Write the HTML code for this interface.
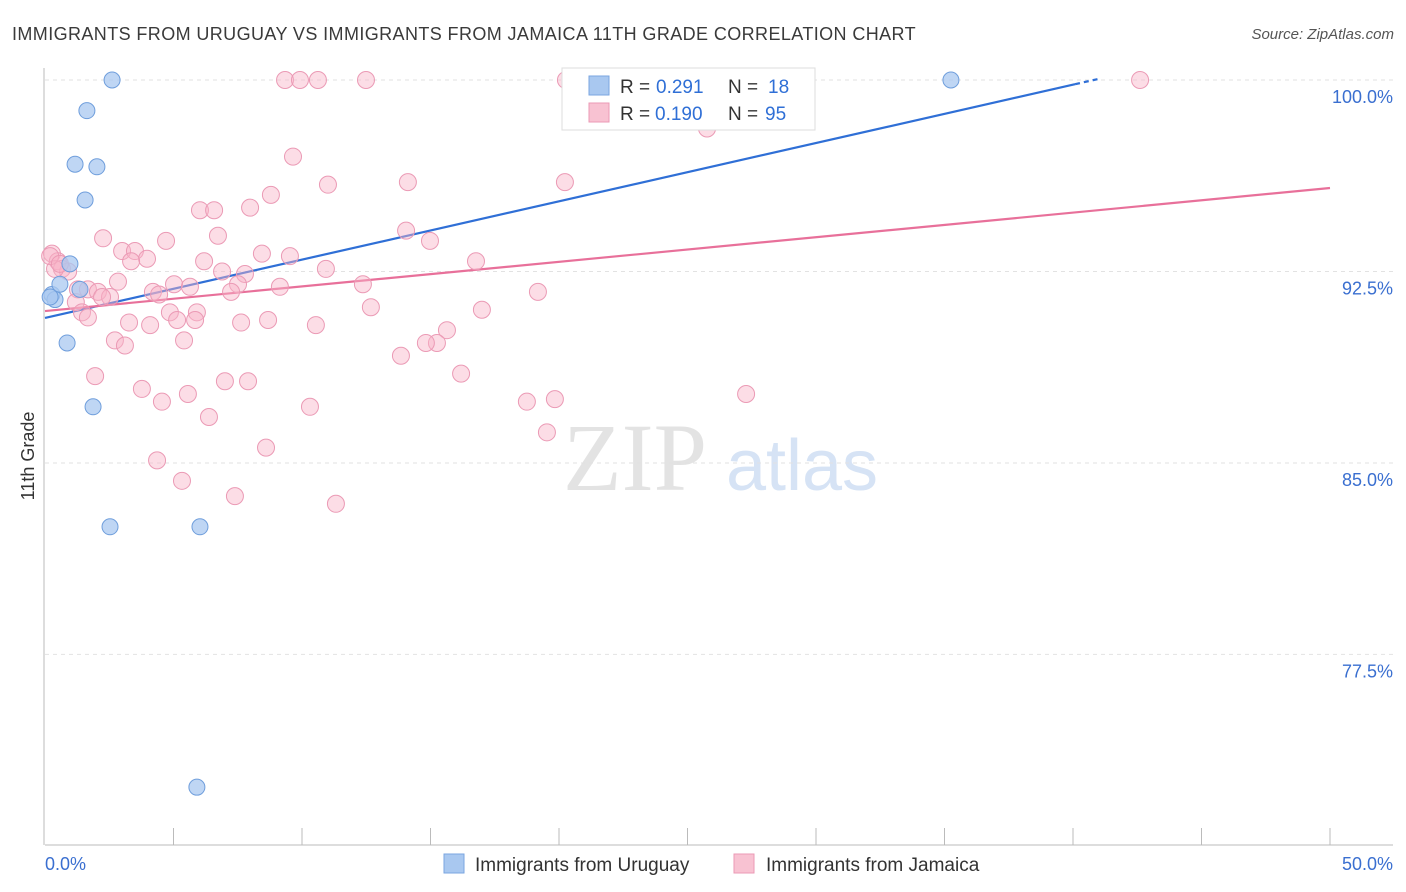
<!DOCTYPE html>
<html><head><meta charset="utf-8"><style>
body{margin:0;background:#fff;font-family:"Liberation Sans",sans-serif;}
svg{display:block}
</style></head><body>
<svg id="chart" width="1406" height="892" xmlns="http://www.w3.org/2000/svg">
<text x="12" y="40" font-size="18" letter-spacing="0.4" fill="#3a3a3a">IMMIGRANTS FROM URUGUAY VS IMMIGRANTS FROM JAMAICA 11TH GRADE CORRELATION CHART</text>
<text x="1394" y="39" font-size="15" fill="#555" text-anchor="end" font-style="italic">Source: ZipAtlas.com</text>
<g>
<text x="635" y="490" font-size="96" fill="#e3e3e3" font-family="Liberation Serif,serif" text-anchor="middle">ZIP</text>
<text x="802" y="490" font-size="72" fill="#d6e3f5" text-anchor="middle">atlas</text>
</g>
<g id="grid"></g>
<g id="axes"></g>
<g id="lines"></g>
<g id="pts"></g>
<text x="34" y="456" font-size="18" fill="#333" text-anchor="middle" transform="rotate(-90 34 456)">11th Grade</text>
<g>
<rect x="562" y="68" width="253" height="62" fill="#fff" stroke="#ddd"/>
<rect x="589" y="76" width="20" height="19" fill="#a9c8f0" stroke="#7aa6e0"/>
<rect x="589" y="103" width="20" height="19" fill="#f8c2d2" stroke="#eb9ab5"/>
<text x="620" y="93" font-size="19" fill="#333">R =</text>
<text x="656" y="93" font-size="19" fill="#2f6fd6">0.291</text>
<text x="728" y="93" font-size="19" fill="#333">N =</text>
<text x="768" y="93" font-size="19" fill="#2f6fd6">18</text>
<text x="620" y="120" font-size="19" fill="#333">R =</text>
<text x="655" y="120" font-size="19" fill="#2f6fd6">0.190</text>
<text x="728" y="120" font-size="19" fill="#333">N =</text>
<text x="765" y="120" font-size="19" fill="#2f6fd6">95</text>
</g>
<g>
<rect x="444" y="854" width="20" height="19" fill="#a9c8f0" stroke="#7aa6e0"/>
<text x="475" y="871" font-size="19" fill="#333">Immigrants from Uruguay</text>
<rect x="734" y="854" width="20" height="19" fill="#f8c2d2" stroke="#eb9ab5"/>
<text x="766" y="871" font-size="19" fill="#333">Immigrants from Jamaica</text>
</g>
</svg>
<script>
const yTicks=[100,92.5,85,77.5];
const yTickLabels=["100.0%","92.5%","85.0%","77.5%"];
const xEndLabels=["0.0%","50.0%"];
const uruguayX=[2.61,1.63,1.17,2.02,1.56,0.97,0.27,0.39,1.36,0.86,1.87,2.53,6.03,5.91,24.63,35.25,0.2,0.58];
const uruguayY=[100,98.8,96.7,96.6,95.3,92.8,91.6,91.4,91.8,89.7,87.2,82.5,82.5,72.3,100,100,91.5,92.0];
const jamaicaX=[9.34,9.92,10.62,12.49,20.27,42.61,25.76,9.65,11.01,14.12,20.23,8.79,6.03,6.58,7.98,14.05,14.98,6.73,2.26,4.71,3.0,3.5,3.97,3.35,8.44,9.53,6.19,10.93,16.77,0.27,0.5,0.66,0.9,0.39,6.89,7.78,7.51,5.02,2.84,9.14,12.37,5.64,4.2,4.44,7.24,19.18,1.28,1.67,2.06,2.53,2.22,1.2,12.68,17.0,4.86,5.91,1.44,1.67,3.27,4.09,5.14,5.84,7.63,8.68,10.54,15.64,15.25,14.82,5.41,2.72,3.11,13.85,1.95,16.19,7.0,7.9,3.77,5.56,4.55,18.75,19.84,27.28,10.31,6.38,8.6,19.53,4.36,5.33,7.39,11.32,0.2,0.58];
const jamaicaY=[100,100,100,100,100,100,98.1,97.0,95.9,96.0,96.0,95.5,94.9,94.9,95.0,94.1,93.7,93.9,93.8,93.7,93.3,93.3,93.0,92.9,93.2,93.1,92.9,92.6,92.9,93.2,92.9,92.6,92.5,92.6,92.5,92.4,92.0,92.0,92.1,91.9,92.0,91.9,91.7,91.6,91.7,91.7,91.8,91.8,91.7,91.5,91.5,91.3,91.1,91.0,90.9,90.9,90.9,90.7,90.5,90.4,90.6,90.6,90.5,90.6,90.4,90.2,89.7,89.7,89.8,89.8,89.6,89.2,88.4,88.5,88.2,88.2,87.9,87.7,87.4,87.4,87.5,87.7,87.2,86.8,85.6,86.2,85.1,84.3,83.7,83.4,93.1,92.8];
const uruguayFit=[90.68,0.2284];
const jamaicaFit=[90.95,0.0964];
const NS="http://www.w3.org/2000/svg";
const xs=v=>45+v*25.7;
const ys=v=>80+(100-v)*25.53;
function mk(tag,attrs,parent){const e=document.createElementNS(NS,tag);for(const k in attrs)e.setAttribute(k,attrs[k]);document.getElementById(parent).appendChild(e);return e;}
yTicks.forEach((t,i)=>{
 const g=mk('line',{x1:45,x2:1393,y1:ys(t),y2:ys(t),stroke:'#e2e2e2','stroke-dasharray':'4,4'},'grid');
 
 
 const l=mk('text',{x:1393,y:ys(t)+23,'font-size':18,fill:'#3a6fd0','text-anchor':'end'},'grid');
 l.textContent=yTickLabels[i];
 
 
});
const ya=mk('line',{x1:44,x2:44,y1:68,y2:845,stroke:'#bbb'},'axes');


const xa=mk('line',{x1:45,x2:1393,y1:845,y2:845,stroke:'#bbb'},'axes');


for(let v=5;v<=50;v+=5){
 const t=mk('line',{x1:xs(v),x2:xs(v),y1:828,y2:845,stroke:'#bbb'},'axes');
 
 
}
[[0,45,'start'],[50,1393,'end']].forEach((p,i)=>{
 const l=mk('text',{x:p[1],y:870,'font-size':18,fill:'#3a6fd0','text-anchor':p[2]},'axes');
 l.textContent=xEndLabels[i];
 
 
});
function fitLine(fit,x0,x1,col,dash,name){
 const l=mk('line',{x1:xs(x0),y1:ys(fit[0]+fit[1]*x0),x2:xs(x1),y2:ys(fit[0]+fit[1]*x1),stroke:col,'stroke-width':2.2},'lines');
 if(dash)l.setAttribute('stroke-dasharray','5,4');
 
 
}
fitLine(uruguayFit,0,40.08,'#2f6fd6',false,'uruguay-trend-line');
fitLine(uruguayFit,40.08,41.05,'#2f6fd6',true,'uruguay-trend-extension');
fitLine(jamaicaFit,0,50,'#e8709a',false,'jamaica-trend-line');
jamaicaX.forEach((x,i)=>{
 const c=mk('circle',{cx:xs(x),cy:ys(jamaicaY[i]),r:8.5,fill:'rgba(248,180,200,0.45)',stroke:'#eb9ab5','stroke-width':1},'pts');
 
 
});
uruguayX.forEach((x,i)=>{
 const c=mk('circle',{cx:xs(x),cy:ys(uruguayY[i]),r:8,fill:'rgba(169,200,240,0.75)',stroke:'#6f9edc','stroke-width':1},'pts');
 
 
});
</script>
</body></html>
